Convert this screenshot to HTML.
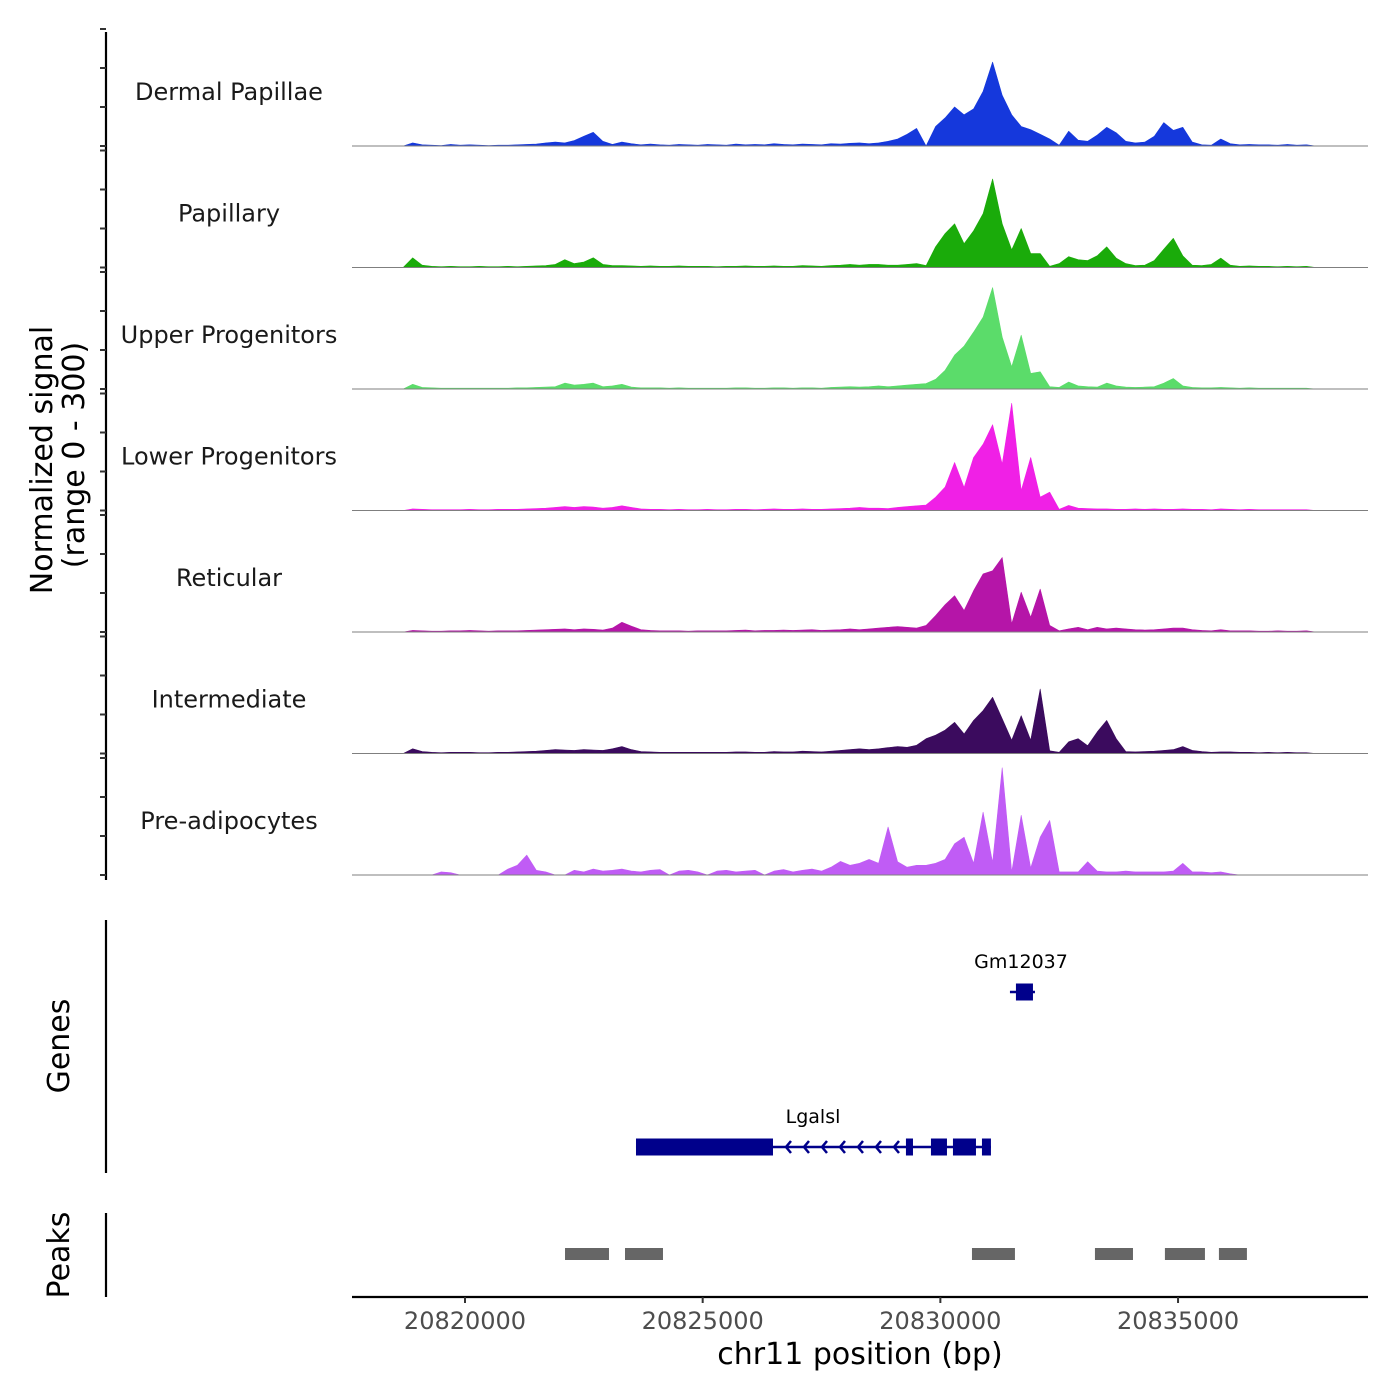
<!DOCTYPE html>
<html><head><meta charset="utf-8">
<style>
html,body{margin:0;padding:0;background:#fff;}
svg{display:block;font-family:"DejaVu Sans","Liberation Sans",sans-serif;}
</style></head>
<body>
<svg id="chart" width="1400" height="1400" viewBox="0 0 1400 1400" xmlns="http://www.w3.org/2000/svg">
<rect width="1400" height="1400" fill="#fff"/>
<g id="tracks"></g>
<g id="labels"></g>
<g id="genes"></g>
<g id="peaks"></g>
<g id="axes"></g>
<text transform="translate(52,460) rotate(-90)" text-anchor="middle" font-size="30" fill="#000">Normalized signal</text>
<text transform="translate(84,455) rotate(-90)" text-anchor="middle" font-size="30" fill="#000">(range 0 - 300)</text>
<text transform="translate(69,1046) rotate(-90)" text-anchor="middle" font-size="30" fill="#000">Genes</text>
<text transform="translate(69,1255) rotate(-90)" text-anchor="middle" font-size="30" fill="#000">Peaks</text>
<text x="860" y="1364" text-anchor="middle" font-size="30" fill="#000">chr11 position (bp)</text>
</svg>
<script>
const binStart = 20818500;
const binStep = 200;
const trackNames = ["Dermal Papillae","Papillary","Upper Progenitors","Lower Progenitors","Reticular","Intermediate","Pre-adipocytes"];
const trackColors = ["#1538dc","#1aab0a","#5bdc6a","#f020e6","#b515a8","#3b0b5e","#c05cf5"];
const dermalPapillae = [0,0,8,3,2,1,4,2,3,2,1,2,2,3,4,5,8,10,8,14,25,35,12,4,10,6,3,5,3,2,4,3,2,4,3,2,5,3,4,3,6,4,3,5,4,3,6,5,7,8,6,8,12,18,30,45,0,50,72,100,80,95,140,215,130,80,50,42,30,18,2,38,15,12,28,48,34,12,8,10,25,60,40,48,10,3,2,18,6,3,4,3,3,2,4,2,3,0];
const papillary = [0,0,25,6,3,2,3,2,2,3,2,2,3,2,3,4,5,8,20,10,14,25,8,5,5,4,3,4,3,3,4,3,3,3,2,3,3,4,3,3,4,3,3,5,4,3,5,6,8,6,8,8,6,6,8,10,5,53,87,112,61,94,138,227,112,45,100,36,36,3,10,28,20,18,30,53,24,10,5,6,18,47,75,30,6,5,8,24,6,3,4,3,3,2,3,2,3,0];
const upperProgenitors = [0,0,12,4,3,2,2,2,2,2,2,2,2,3,3,4,5,6,15,10,12,15,6,8,12,5,3,3,3,2,3,2,2,2,2,2,3,3,2,2,3,3,2,3,3,2,4,5,6,5,6,8,6,8,10,12,14,25,48,87,110,146,184,260,133,57,138,40,44,6,4,18,8,6,5,15,8,5,4,5,6,15,27,8,4,3,3,4,3,2,3,2,2,2,2,2,2,0];
const lowerProgenitors = [0,0,4,3,2,2,2,2,3,2,2,3,3,3,4,5,6,8,10,8,10,9,6,8,12,8,4,3,3,2,3,2,2,3,2,2,3,3,2,3,4,3,3,4,3,3,4,5,6,8,6,6,5,8,10,12,14,34,60,123,59,136,170,220,119,275,51,136,34,47,3,13,6,5,4,4,3,3,4,3,4,3,3,4,3,3,2,4,3,2,3,2,2,2,2,2,2,0];
const reticular = [0,0,4,3,2,2,3,3,4,3,2,3,3,3,4,5,6,7,8,6,8,7,5,10,25,15,6,4,3,3,3,2,3,3,3,3,4,5,3,4,4,5,4,5,6,4,5,6,8,6,8,10,12,14,12,10,17,42,70,93,55,106,149,157,191,21,102,38,110,17,3,8,12,6,12,8,10,8,6,5,6,8,10,10,6,4,3,6,3,3,3,2,2,3,2,2,3,0];
const intermediate = [0,0,12,5,3,2,3,3,3,2,2,3,3,4,5,6,8,10,9,8,10,9,8,12,18,10,5,4,3,3,3,3,3,3,3,3,4,4,3,3,5,4,4,6,5,4,6,8,10,12,10,12,15,18,16,21,38,47,60,80,50,85,110,144,89,34,97,34,165,7,3,30,38,20,55,85,38,5,4,5,6,8,10,18,8,5,3,4,4,3,3,2,3,2,3,2,2,0];
const preAdipocytes = [0,0,0,0,0,8,6,0,0,0,0,0,15,25,51,12,8,0,0,12,8,15,10,12,15,10,8,12,14,0,10,12,8,0,10,12,8,10,12,0,10,14,8,12,15,10,20,35,25,30,40,30,123,34,20,25,25,30,40,80,97,30,161,32,275,8,153,18,97,140,8,8,8,34,10,8,8,10,8,8,8,8,10,30,8,8,6,8,3,0,0,0,0,0,0,0,0,0];
const trackData = [dermalPapillae,papillary,upperProgenitors,lowerProgenitors,reticular,intermediate,preAdipocytes];
const xTicks = [20820000,20825000,20830000,20835000];
const yTicks = [0,100,200,300];
const geneNames = ["Lgalsl","Gm12037"];
const geneStart = [20823597,20831464];
const geneEnd = [20831064,20831990];
const lgalslExonStarts = [20823597,20829276,20829802,20830265,20830875];
const lgalslExonEnds = [20826479,20829424,20830139,20830749,20831064];
const gmExonStarts = [20831590];
const gmExonEnds = [20831948];
const peakStarts = [20822104,20823366,20830665,20833252,20834724,20835860];
const peakEnds = [20823029,20824165,20831569,20834052,20835566,20836449];

const NS = "http://www.w3.org/2000/svg";
const X0 = 352, X1 = 1368;
function xScale(bp){ return 465 + (bp - 20820000) * 0.047536; }
const baselines = [146,267.5,389,510.5,632,753.5,875];
const yUnit = 0.39;
function yScale(t, v){ return baselines[t] - v * yUnit; }
function mk(tag, attrs, parent){ const e=document.createElementNS(NS,tag); for(const k in attrs) e.setAttribute(k,attrs[k]); parent.appendChild(e); return e; }

const tracksG = document.getElementById('tracks');
const labelsG = document.getElementById('labels');
trackData.forEach((vals, t) => {
  const g = mk('g', {}, tracksG);
  
  
  let d = 'M' + xScale(binStart).toFixed(1) + ',' + baselines[t];
  vals.forEach((v, i) => {
    d += ' L' + xScale(binStart + i * binStep).toFixed(1) + ',' + yScale(t, v).toFixed(1);
  });
  d += ' L' + xScale(binStart + (vals.length - 1) * binStep).toFixed(1) + ',' + baselines[t] + ' Z';
  const p = mk('path', {d: d, fill: trackColors[t], stroke: trackColors[t], 'stroke-width': 0.6, 'stroke-linejoin':'round'}, g);
  
  
  const bl = mk('line', {x1: X0, x2: X1, y1: baselines[t], y2: baselines[t], stroke: '#7f7f7f', 'stroke-width': 1}, g);
  
  
  const lb = mk('text', {x: 229, y: baselines[t] - 46, 'text-anchor': 'middle', 'font-size': 24, fill: '#1a1a1a'}, labelsG);
  lb.textContent = trackNames[t];
  
  
});

const axesG = document.getElementById('axes');
mk('line', {x1:106,x2:106,y1:32,y2:880,stroke:'#000','stroke-width':2.2}, axesG);
baselines.forEach((b, t) => {
  yTicks.forEach(v => {
    const tk = mk('line', {x1:100,x2:106,y1:yScale(t,v),y2:yScale(t,v),stroke:'#333','stroke-width':2}, axesG);
    
    
  });
});
mk('line', {x1:106,x2:106,y1:920,y2:1173,stroke:'#000','stroke-width':2.2}, axesG);
mk('line', {x1:106,x2:106,y1:1213,y2:1297,stroke:'#000','stroke-width':2.2}, axesG);
mk('line', {x1:X0,x2:X1,y1:1297,y2:1297,stroke:'#000','stroke-width':2.2}, axesG);
xTicks.forEach(v => {
  const x = xScale(v);
  const tk = mk('line', {x1:x,x2:x,y1:1297,y2:1303,stroke:'#333','stroke-width':2}, axesG);
  
  
  const tl = mk('text', {x:x,y:1329,'text-anchor':'middle','font-size':24,fill:'#4d4d4d'}, axesG);
  tl.textContent = v;
  
  
});

const genesG = document.getElementById('genes');
const navy = '#00008b';
const geneY = [1147, 992];
geneNames.forEach((n, gi) => {
  const g = mk('g', {}, genesG);
  
  
  const y = geneY[gi];
  mk('line', {x1:xScale(geneStart[gi]),x2:xScale(geneEnd[gi]),y1:y,y2:y,stroke:navy,'stroke-width':2.5}, g);
  const s = gi === 0 ? lgalslExonStarts : gmExonStarts;
  const e = gi === 0 ? lgalslExonEnds : gmExonEnds;
  s.forEach((st, k) => {
    const ex = mk('rect', {x:xScale(st),y:y-8.5,width:Math.max(3,xScale(e[k])-xScale(st)),height:17,fill:navy}, g);
    
    
  });
  const lbl = mk('text', {x:(gi===0?813:1021),y:y-24,'text-anchor':'middle','font-size':19,fill:'#000'}, g);
  lbl.textContent = n;
  
  
});
[786,804,822,840,858,876,894].forEach(x => {
  mk('path', {d:'M'+(x+5)+',1141 L'+x+',1147 L'+(x+5)+',1153',fill:'none',stroke:navy,'stroke-width':2.5}, genesG);
});

const peaksG = document.getElementById('peaks');
peakStarts.forEach((s, i) => {
  const r = mk('rect', {x:xScale(s),y:1248,width:xScale(peakEnds[i])-xScale(s),height:12,fill:'#666666'}, peaksG);
  
  
});
</script>
</body></html>
